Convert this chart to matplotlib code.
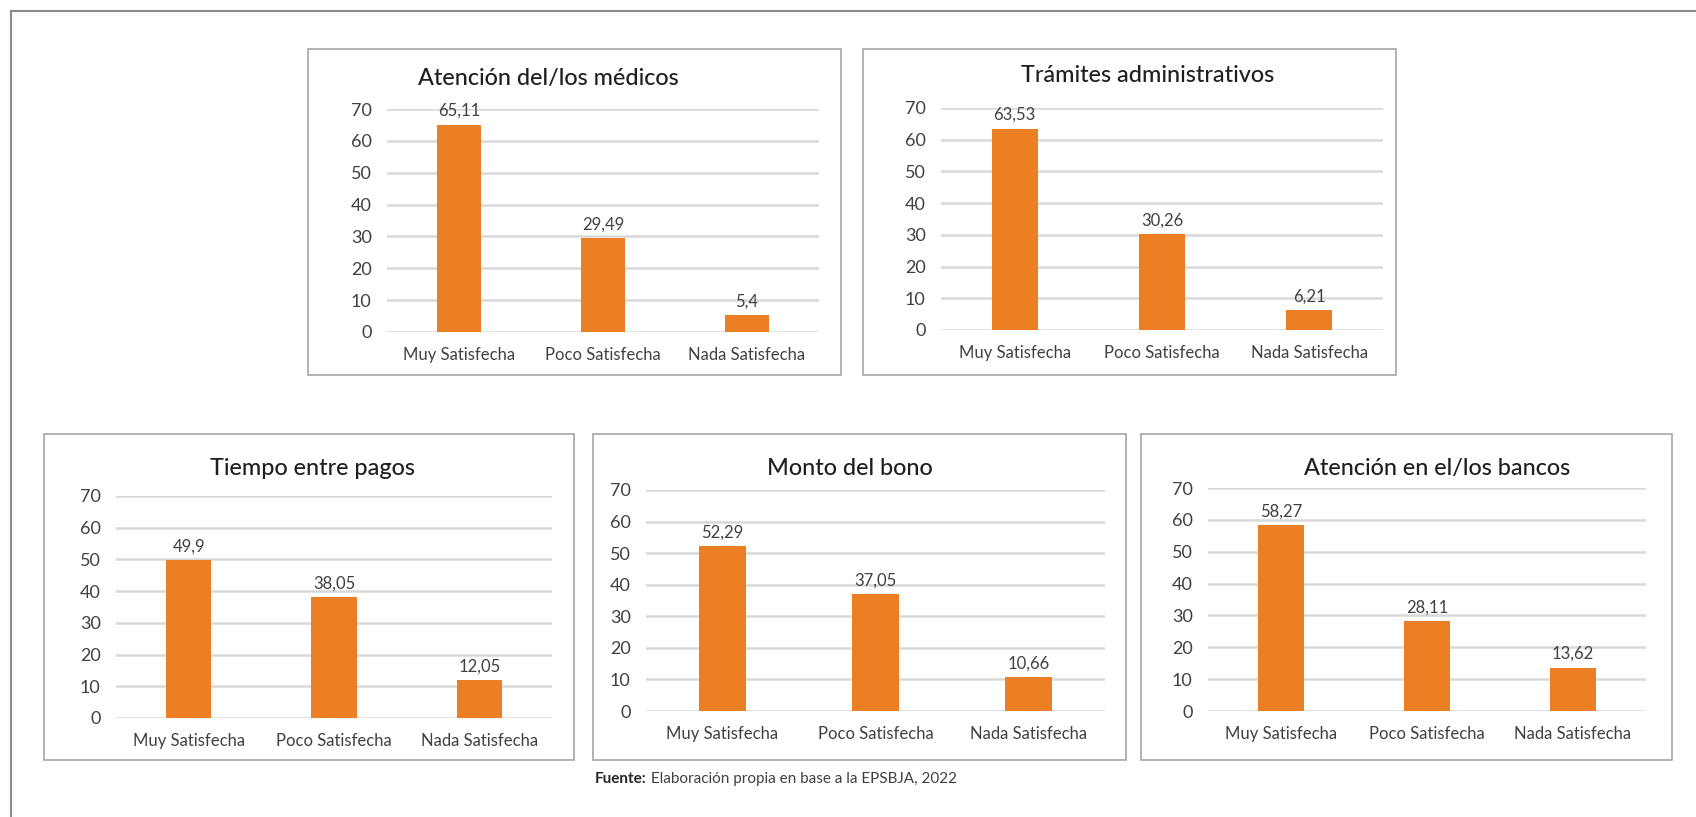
import matplotlib
matplotlib.use("Agg")
import matplotlib.pyplot as plt
from matplotlib.patches import Rectangle
from matplotlib.lines import Line2D

plt.rcParams['font.family'] = ['Lato', 'DejaVu Sans']

W, H = 1696, 817

categorias = ['Muy Satisfecha', 'Poco Satisfecha', 'Nada Satisfecha']
titulos = ['Atención del/los médicos', 'Trámites administrativos',
           'Tiempo entre pagos', 'Monto del bono', 'Atención en el/los bancos']
medicos = [65.11, 29.49, 5.4]
tramites = [63.53, 30.26, 6.21]
tiempo = [49.9, 38.05, 12.05]
monto = [52.29, 37.05, 10.66]
bancos = [58.27, 28.11, 13.62]
series = [medicos, tramites, tiempo, monto, bancos]
yticks = [0, 10, 20, 30, 40, 50, 60, 70]

# layout in pixels: panel box (l, t, r, b), plot area (l, r, top, bottom), title (x, y)
layout = [
    ((308, 49, 841, 375), (387, 819, 109, 332), (548, 78)),
    ((863, 49, 1396, 375), (941, 1383, 108, 330), (1148, 76)),
    ((44, 434, 574, 760), (116, 552, 496, 718), (313, 468)),
    ((593, 434, 1126, 760), (646, 1105, 490, 711), (850, 468)),
    ((1141, 434, 1672, 760), (1208, 1646, 488, 711), (1437, 468)),
]

naranja = '#EC7E24'
gris_grid = '#D9D9D9'
texto = '#404040'

fig = plt.figure(figsize=(W / 100, H / 100), dpi=100)
fig.patch.set_facecolor('white')

# outer frame (top and left only)
fig.add_artist(Line2D([11 / W, 1], [1 - 11 / H, 1 - 11 / H], color='#8C8C8C', lw=1.5))
fig.add_artist(Line2D([11 / W, 11 / W], [0, 1 - 11 / H], color='#8C8C8C', lw=1.5))

for vals, titulo, (box, plot, tpos) in zip(series, titulos, layout):
    bl, bt, br, bb = box
    fig.add_artist(Rectangle((bl / W, 1 - bb / H), (br - bl) / W, (bb - bt) / H,
                             fill=False, edgecolor='#A6A6A6', lw=1.2))
    pl, pr, ptop, pbot = plot
    ax = fig.add_axes([pl / W, 1 - pbot / H, (pr - pl) / W, (pbot - ptop) / H])
    x = range(len(categorias))
    ax.bar(x, vals, width=0.31, color=naranja, zorder=3)
    for xi, v in zip(x, vals):
        ax.annotate(str(v).replace('.', ','), (xi, v), xytext=(0, 4),
                    textcoords='offset points', ha='center', va='bottom',
                    fontsize=12, color=texto)
    ax.set_xlim(-0.5, 2.5)
    ax.set_ylim(0, 70)
    ax.set_yticks(yticks)
    ax.set_xticks(list(x))
    ax.set_xticklabels(categorias)
    ax.tick_params(axis='both', length=0, colors=texto)
    ax.tick_params(axis='y', labelsize=13, pad=11)
    ax.tick_params(axis='x', labelsize=12, pad=11)
    ax.yaxis.grid(True, color=gris_grid, lw=1.8, zorder=0)
    ax.set_axisbelow(True)
    for s in ax.spines.values():
        s.set_visible(False)
    ax.patch.set_alpha(0)
    fig.text(tpos[0] / W, 1 - tpos[1] / H, titulo, ha='center', va='center',
             fontsize=16.8, color='#1f1f1f', fontweight='medium')

# source note: bold label, then the rest right after it
fuente = fig.text(595 / W, 1 - 779 / H, 'Fuente:', ha='left', va='center',
                  fontsize=11, fontweight='bold', color='#262626')
fig.add_artist(plt.Annotation(' Elaboración propia en base a la EPSBJA, 2022',
                              xy=(1, 0.5), xycoords=fuente, ha='left', va='center',
                              fontsize=11, color='#404040'))

fig.savefig('out.png', dpi=100)
